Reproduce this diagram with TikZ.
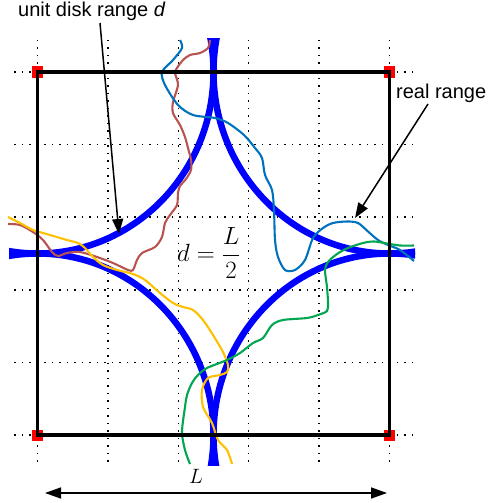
\documentclass[tikz,border=0pt]{standalone}
\usepackage{fontspec}
\usepackage{amsmath}
\newfontfamily\labelfont{Liberation Sans}
\usetikzlibrary{arrows.meta}
\definecolor{rangeblue}{RGB}{0,0,255}
\definecolor{cred}{RGB}{184,84,80}
\definecolor{cblue}{RGB}{0,114,189}
\definecolor{cyellow}{RGB}{255,192,0}
\definecolor{cgreen}{RGB}{0,166,80}
\begin{document}
\begin{tikzpicture}[x=1pt,y=-1pt,
 gridline/.style={line width=1.5pt, dash pattern=on 1.5pt off 6pt, black},
 diskarc/.style={line width=6.5pt, rangeblue},
 realcurve/.style={line width=2.1pt},
 frame/.style={line width=3.6pt, black},
 cornermark/.style={fill=red, minimum size=11pt, inner sep=0pt, draw=none},
 pointer/.style={line width=1.5pt, -{Triangle[length=15pt,width=11pt]}},
 labeltext/.style={font=\labelfont\fontsize{20}{24}\selectfont, inner sep=0pt, anchor=base west},
]
\useasboundingbox (0,0) rectangle (488,503);
% grid
\foreach \x in {37.5,107.9,178.3,248.7,319.1,389.5}
  \draw[gridline] (\x,40) -- (\x,465);
\foreach \y in {72,144.6,217.2,289.8,362.4,435}
  \draw[gridline] (14,\y) -- (413,\y);
% unit disk arcs
\begin{scope}
\clip (9,39) rectangle (415,465);
\foreach \cx/\cy in {37.5/72, 389.5/72, 37.5/435, 389.5/435}
  \draw[diskarc] (\cx,\cy) ellipse [x radius=176pt, y radius=181.5pt];
\end{scope}
% real range curves
\draw[realcurve, cred] plot[smooth, tension=0.5] coordinates {(210,40) (208,48) (200,53) (190,55) (183,60) (177,68) (175,73) (178,85) (173,102) (173,113) (180,125) (185,137) (188,148) (191,160) (191,170) (186,179) (180,186) (178,193) (177,205) (170,215) (165,223) (162,237) (155,247) (142,253) (137,260) (133,270) (128,270) (113,263) (97,257) (80,252) (67,253) (58,256) (52,252) (43,240) (33,232) (20,225) (8,224)};
\draw[realcurve, cblue] plot[smooth, tension=0.5] coordinates {(180,40) (182,48) (173,60) (162,72) (165,85) (178,105) (193,115) (215,118) (228,123) (244,135) (255,148) (262,158) (265,175) (272,190) (274,210) (275,240) (278,257) (285,270) (295,270) (305,260) (313,238) (323,228) (333,223) (347,221.5) (358,223) (368,231.5) (378,240) (388,245) (400,250) (414,261)};
\draw[realcurve, cyellow] plot[smooth, tension=0.5] coordinates {(8,217) (20,223) (33,230) (43,233) (50,235) (67,240) (78,243) (85,248) (93,257) (103,265) (117,270) (133,274) (145,280) (160,293) (173,303) (183,307) (193,310) (203,320) (213,335) (223,352) (228,365) (227,372) (220,375) (208,378) (202,390) (203,407) (212,423) (218,440) (227,450) (232,464)};
\draw[realcurve, cgreen] plot[smooth, tension=0.5] coordinates {(190,464) (185,450) (182,432) (185,407) (187,395) (192,383) (198,375) (207,368) (227,360) (240,353) (253,343) (263,338) (272,325) (283,320) (307,318) (318,315) (327,311) (328,303) (327,287) (325,270) (328,262) (337,254) (348,248) (363,243) (374,241.5) (387,243.5) (400,245.5) (414,245.5)};
% corners and frame
\node[cornermark] (tl) at (37.5,72) {};
\node[cornermark] (tr) at (389.5,72) {};
\node[cornermark] (bl) at (37.5,435) {};
\node[cornermark] (br) at (389.5,435) {};
\draw[frame] (tl.center) -- (tr.center) -- (br.center) -- (bl.center) -- cycle;
% labels and pointers
\node[labeltext] (ulabel) at (18,17) {unit disk range {\itshape d}};
\node[labeltext] (rlabel) at (396,98.5) {real range};
\coordinate (ustart) at (100,23);
\coordinate (utip) at (119,234);
\draw[pointer] (ustart) -- (utip);
\coordinate (rstart) at (428,104);
\coordinate (rtip) at (355,218);
\draw[pointer] (rstart) -- (rtip);
\node[anchor=base west, inner sep=0pt, font=\fontsize{27}{32}\selectfont] (formula) at (177,261.7) {$d=\dfrac{L}{2}$};
\node[anchor=base west, inner sep=0pt, font=\fontsize{20}{24}\selectfont] (Llabel) at (189,483.5) {$L$};
\coordinate (la) at (45,493);
\coordinate (ra) at (387,493);
\draw[line width=1.5pt, {Triangle[length=16pt,width=11pt]}-{Triangle[length=16pt,width=11pt]}] (la) -- (ra);
\end{tikzpicture}
\end{document}
